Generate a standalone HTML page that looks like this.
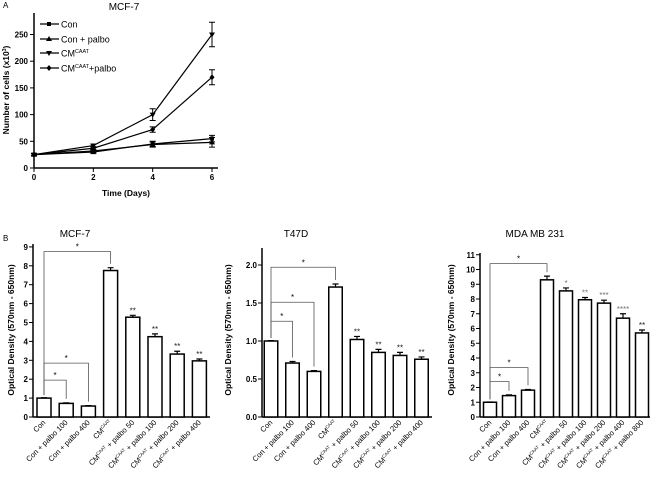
<!DOCTYPE html>
<html><head><meta charset="utf-8"><style>
body{margin:0;background:#fff}
svg{display:block;font-family:"Liberation Sans",Arial,sans-serif}
</style></head><body>
<svg id="fig" width="650" height="483" viewBox="0 0 650 483">
<text x="3" y="8" font-size="8">A</text>
<text x="3" y="241" font-size="8">B</text>
<g id="pA"></g>
<g id="b1"></g>
<g id="b2"></g>
<g id="b3"></g>
</svg>
<script>
const NS="http://www.w3.org/2000/svg";
// Panel A data
const days=[0,2,4,6];
const aTicksY=[0,50,100,150,200,250];
const conVals=[25,30,45,55];
const conErr=[2,3,5,6];
const conPalboVals=[25,32,44,48];
const conPalboErr=[2,3,5,9];
const cmVals=[25,42,100,250];
const cmErr=[2,3,11,23];
const cmPalboVals=[25,37,72,170];
const cmPalboErr=[2,3,5,14];
const seriesNames=["Con","Con + palbo","CM","CM+palbo"];
// Panel B data
const cats1=["Con","Con + palbo 100","Con + palbo 400","CM","CM + palbo 50","CM + palbo 100","CM + palbo 200","CM + palbo 400"];
const mcfVals=[1.0,0.72,0.58,7.75,5.28,4.25,3.33,2.97];
const mcfErr=[0.02,0.03,0.02,0.15,0.1,0.15,0.15,0.1];
const mcfStars=["","","","","**","**","**","**"];
const mcfTicks=[0,1,2,3,4,5,6,7,8,9];
const mcfBrackets=[[0,3,8.75],[0,2,2.85],[0,1,1.95]];
const t47Vals=[1.0,0.71,0.6,1.71,1.02,0.85,0.81,0.76];
const t47Err=[0.005,0.02,0.01,0.04,0.04,0.04,0.04,0.03];
const t47Stars=["","","","","**","**","**","**"];
const t47Ticks=[0,0.5,1.0,1.5,2.0];
const t47Brackets=[[0,3,1.97],[0,2,1.51],[0,1,1.26]];
const cats3=["Con","Con + palbo 100","Con + palbo 400","CM","CM + palbo 50","CM + palbo 100","CM + palbo 200","CM + palbo 400","CM + palbo 800"];
const mdaVals=[1.0,1.45,1.82,9.3,8.55,7.95,7.72,6.7,5.7];
const mdaErr=[0.02,0.05,0.05,0.25,0.2,0.15,0.2,0.3,0.2];
const mdaStars=["","","","","*","**","***","****","**"];
const mdaTicks=[0,1,2,3,4,5,6,7,8,9,10,11];
const mdaBrackets=[[0,3,10.4],[0,2,3.35],[0,1,2.4]];

function mk(p,tag,at){const e=document.createElementNS(NS,tag);for(const k in at)e.setAttribute(k,at[k]);p.appendChild(e);return e;}
function cmText(parent,x,y,txt,fs,anchor,rot){
  const t=mk(parent,"text",{x:x,y:y,"font-size":fs,"text-anchor":anchor||"start"});
  if(rot)t.setAttribute("transform","rotate("+rot+" "+x+" "+y+")");
  if(txt.startsWith("CM")){
    const a=document.createElementNS(NS,"tspan");a.textContent="CM";t.appendChild(a);
    const s=document.createElementNS(NS,"tspan");s.textContent="CAAT";s.setAttribute("font-size",fs*0.6);s.setAttribute("dy",-fs*0.4);t.appendChild(s);
    const r=document.createElementNS(NS,"tspan");r.textContent=txt.slice(2);r.setAttribute("dy",fs*0.4);t.appendChild(r);
  } else t.textContent=txt;
  return t;
}
// ---- Panel A
(function(){
  const g=document.getElementById("pA");
  const x=d=>34+d*(178/6), y=v=>168-v*(133.5/250);
  mk(g,"line",{x1:34,y1:13,x2:34,y2:168,stroke:"#000","stroke-width":1.5});
  mk(g,"line",{x1:34,y1:168,x2:218,y2:168,stroke:"#000","stroke-width":1.5});
  aTicksY.forEach(v=>{mk(g,"line",{x1:30,y1:y(v),x2:34,y2:y(v),stroke:"#000"});
    const t=mk(g,"text",{x:28,y:y(v)+3,"font-size":8,"font-weight":"bold","text-anchor":"end"});t.textContent=v;});
  days.forEach(d=>{mk(g,"line",{x1:x(d),y1:168,x2:x(d),y2:172,stroke:"#000"});
    const t=mk(g,"text",{x:x(d),y:180,"font-size":8,"font-weight":"bold","text-anchor":"middle"});t.textContent=d;});
  let t=mk(g,"text",{x:126,y:196,"font-size":8.5,"font-weight":"bold","text-anchor":"middle"});t.textContent="Time (Days)";
  t=mk(g,"text",{x:9,y:90,"font-size":8.5,"font-weight":"bold","text-anchor":"middle",transform:"rotate(-90 9 90)"});
  t.innerHTML='Number of cells (x10<tspan font-size="5" dy="-3">3</tspan><tspan dy="3">)</tspan>';
  t=mk(g,"text",{x:124,y:10,"font-size":10,"text-anchor":"middle"});t.textContent="MCF-7";
  const S=[[conVals,conErr,"sq"],[conPalboVals,conPalboErr,"tu"],[cmVals,cmErr,"td"],[cmPalboVals,cmPalboErr,"di"]];
  function marker(cx,cy,k){
    if(k=="sq")mk(g,"rect",{x:cx-2,y:cy-2,width:4,height:4});
    else if(k=="tu")mk(g,"polygon",{points:`${cx},${cy-3} ${cx-3},${cy+2} ${cx+3},${cy+2}`});
    else if(k=="td")mk(g,"polygon",{points:`${cx},${cy+3} ${cx-3},${cy-2} ${cx+3},${cy-2}`});
    else mk(g,"polygon",{points:`${cx},${cy-3} ${cx+2.5},${cy} ${cx},${cy+3} ${cx-2.5},${cy}`});
  }
  S.forEach((s,i)=>{
    const sg=mk(g,"g",{});
    
    
    mk(sg,"polyline",{points:days.map((d,j)=>x(d)+","+y(s[0][j])).join(" "),fill:"none",stroke:"#000","stroke-width":1.2});
    days.forEach((d,j)=>{const e=s[1][j];
      mk(sg,"path",{d:`M${x(d)},${y(s[0][j]-e)}V${y(s[0][j]+e)}M${x(d)-3},${y(s[0][j]-e)}h6M${x(d)-3},${y(s[0][j]+e)}h6`,stroke:"#000","stroke-width":1,fill:"none"});
      marker(x(d),y(s[0][j]),s[2]);});
    const ly=[24,39,53,68][i];
    mk(g,"line",{x1:40,y1:ly,x2:59,y2:ly,stroke:"#000","stroke-width":1.2});marker(49,ly,s[2]);
    cmText(g,61,ly+3.5,seriesNames[i],9,"start");
  });
})();
// ---- Panel B
function bars(id,title,titleX,axX,ylOff,axTop,axRight,ppu,c0,dx,bw,cats,vals,errs,stars,ticks,dec,brackets,starColor){
  const g=document.getElementById(id);
  const y0=417,y=v=>y0-v*ppu,cx=i=>c0+i*dx;
  let t=mk(g,"text",{x:titleX,y:237,"font-size":10,"text-anchor":"middle"});t.textContent=title;
  const ylx=axX-ylOff,yly=330;
  t=mk(g,"text",{x:ylx,y:yly,"font-size":8.5,"font-weight":"bold","text-anchor":"middle",transform:`rotate(-90 ${ylx} ${yly})`});
  t.textContent="Optical Density (570nm - 650nm)";
  mk(g,"line",{x1:axX,y1:axTop,x2:axX,y2:y0,stroke:"#000","stroke-width":1.5});
  mk(g,"line",{x1:axX,y1:y0,x2:axRight,y2:y0,stroke:"#000","stroke-width":1.5});
  ticks.forEach(v=>{mk(g,"line",{x1:axX-4,y1:y(v),x2:axX,y2:y(v),stroke:"#000"});
    const tt=mk(g,"text",{x:axX-5,y:y(v)+3,"font-size":8,"font-weight":"bold","text-anchor":"end"});tt.textContent=v.toFixed(dec);});
  vals.forEach((v,i)=>{
    const b=mk(g,"rect",{x:cx(i)-bw/2,y:y(v),width:bw,height:y0-y(v),fill:"#fff",stroke:"#000","stroke-width":1.5});
    
    
    const e=errs[i];
    mk(g,"path",{d:`M${cx(i)},${y(v)}V${y(v+e)}M${cx(i)-3},${y(v+e)}h6`,stroke:"#000","stroke-width":1.2,fill:"none"});
    if(stars[i]){const s=mk(g,"text",{x:cx(i),y:y(v+e)-2,"font-size":8,"text-anchor":"middle",fill:starColor&&i<8?starColor:"#222"});s.textContent=stars[i];}
    cmText(g,cx(i)+2,y0+6,cats[i],7.5,"end",-45);
  });
  brackets.forEach(br=>{const [a,b,h]=br;
    mk(g,"path",{d:`M${cx(a)},${y(vals[a])-3}V${y(h)}H${cx(b)}V${y(vals[b]+errs[b])-4}`,fill:"none",stroke:"#555","stroke-width":0.8});
    const s=mk(g,"text",{x:(cx(a)+cx(b))/2,y:y(h)-2,"font-size":8,"text-anchor":"middle"});s.textContent="*";});
}
bars("b1","MCF-7",75,33,19,244,210,18.9,44,22.2,14,cats1,mcfVals,mcfErr,mcfStars,mcfTicks,0,mcfBrackets);
bars("b2","T47D",296,262,31,248,432,76,271,21.5,13.5,cats1,t47Vals,t47Err,t47Stars,t47Ticks,1,t47Brackets);
bars("b3","MDA MB 231",535,480,26,253,650,14.75,490,19,13,cats3,mdaVals,mdaErr,mdaStars,mdaTicks,0,mdaBrackets,"#777");
</script>
</body></html>
